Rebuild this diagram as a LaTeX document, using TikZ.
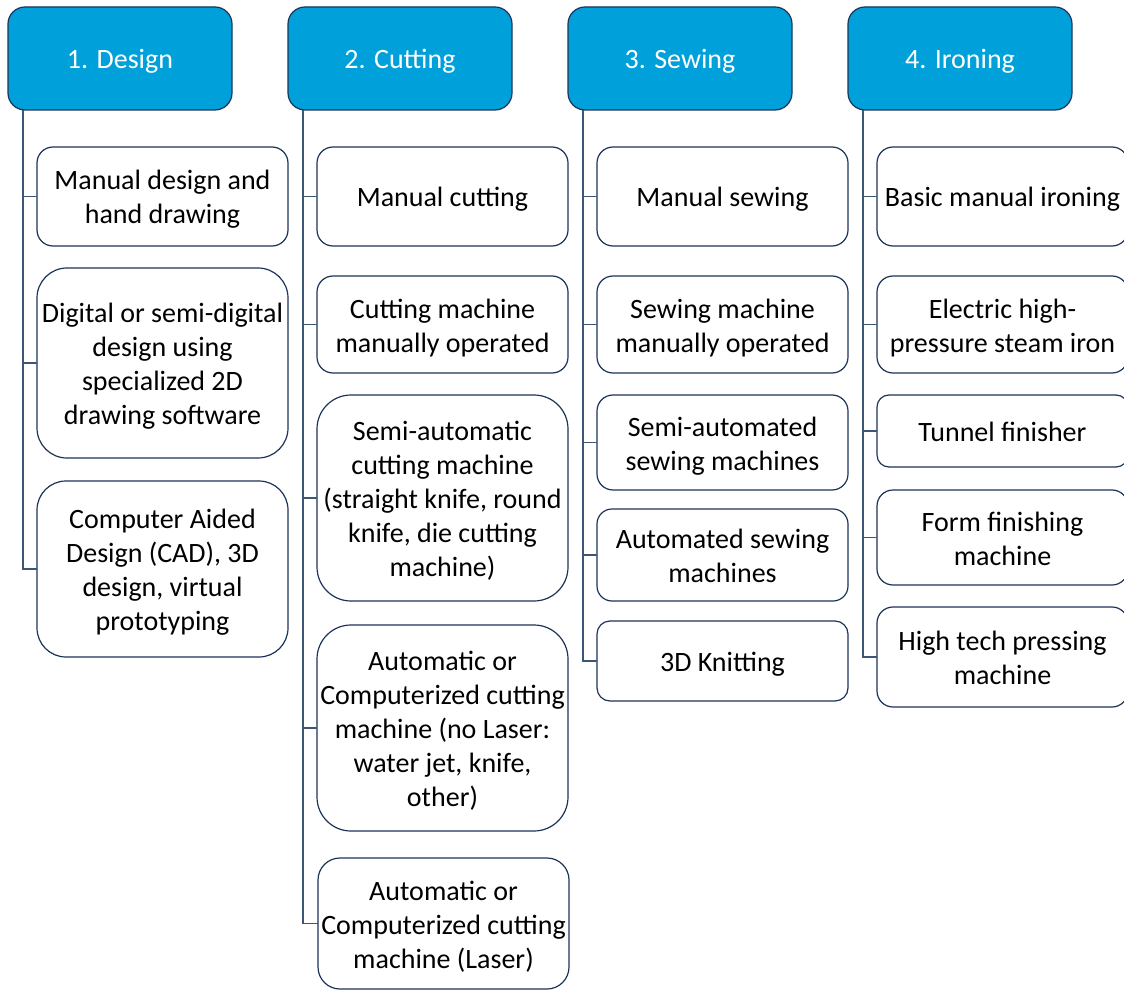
\documentclass[tikz,border=0pt]{standalone}
\usepackage{fontspec}
\setmainfont{Carlito}
\usetikzlibrary{calc}

\definecolor{headblue}{RGB}{0,160,218}
\definecolor{edgenavy}{RGB}{28,52,88}
\definecolor{stemgray}{RGB}{62,86,118}

\tikzset{
  x=1pt, y=-1pt,
  base/.style={draw=edgenavy, line width=1.2pt, inner sep=0pt, outer sep=0pt,
    align=center, font=\fontsize{28}{34}\selectfont},
  headbox/.style={base, fill=headblue, text=white, rounded corners=17pt},
  childbox/.style={base, fill=white, text=black},
  stem/.style={draw=stemgray, line width=1.2pt}
}

% fixed struts so every label block sits at the same height in its box
\newcommand\topstrut{\rule{0pt}{29pt}}
\newcommand\botstrut{\rule[-8pt]{0pt}{8pt}}

% box given by name, left, top, right, bottom, corner radius, style, text
\newcommand\boxat[8]{%
  \node[#7, rounded corners=#6pt, minimum width={#4-#2}, minimum height={#5-#3}]
    (#1) at ({(#2+#4)/2},{(#3+#5)/2}) {\topstrut#8\botstrut};}

\begin{document}
\begin{tikzpicture}
\useasboundingbox[fill=white] (0,0) rectangle (1124,992);

% stage headers
\boxat{h1}{8}{7}{232}{110}{17}{headbox}{1. Design}
\boxat{h2}{288}{7}{512}{110}{17}{headbox}{2. Cutting}
\boxat{h3}{568}{7}{792}{110}{17}{headbox}{3. Sewing}
\boxat{h4}{848}{7}{1072}{110}{17}{headbox}{4. Ironing}

% design
\boxat{c11}{37}{147}{288}{246}{16}{childbox}{Manual design and\\hand drawing}
\boxat{c12}{37}{268}{288}{458}{30}{childbox}{Digital or semi-digital\\design using\\specialized 2D\\drawing software}
\boxat{c13}{37}{481}{288}{657}{29}{childbox}{Computer Aided\\Design (CAD), 3D\\design, virtual\\prototyping}

% cutting
\boxat{c21}{317}{147}{568}{246}{16}{childbox}{Manual cutting}
\boxat{c22}{317}{276}{568}{373}{16}{childbox}{Cutting machine\\manually operated}
\boxat{c23}{317}{395}{568}{601}{34}{childbox}{Semi-automatic\\cutting machine\\(straight knife, round\\knife, die cutting\\machine)}
\boxat{c24}{317}{625}{568}{831}{34}{childbox}{Automatic or\\Computerized cutting\\machine (no Laser:\\water jet, knife,\\other)}
\boxat{c25}{318}{858}{569}{989}{22}{childbox}{Automatic or\\Computerized cutting\\machine (Laser)}

% sewing
\boxat{c31}{597}{147}{848}{246}{16}{childbox}{Manual sewing}
\boxat{c32}{597}{276}{848}{373}{16}{childbox}{Sewing machine\\manually operated}
\boxat{c33}{597}{395}{848}{490}{16}{childbox}{Semi-automated\\sewing machines}
\boxat{c34}{597}{509}{848}{601}{15}{childbox}{Automated sewing\\machines}
\boxat{c35}{597}{621}{848}{701}{13}{childbox}{3D Knitting}

% ironing
\boxat{c41}{877}{147}{1128}{246}{16}{childbox}{Basic manual ironing}
\boxat{c42}{877}{276}{1128}{373}{16}{childbox}{Electric high-\\pressure steam iron}
\boxat{c43}{877}{395}{1128}{467}{12}{childbox}{Tunnel finisher}
\boxat{c44}{877}{490}{1128}{585}{16}{childbox}{Form finishing\\machine}
\boxat{c45}{877}{607}{1128}{707}{16}{childbox}{High tech pressing\\machine}

% stems from each header down to its items
\coordinate (s1) at ($(h1.south west)+(15,0)$);
\coordinate (s2) at ($(h2.south west)+(15,0)$);
\coordinate (s3) at ($(h3.south west)+(15,0)$);
\coordinate (s4) at ($(h4.south west)+(15,0)$);

\foreach \i in {1,2,3} \draw[stem] (s1) |- (c1\i.west);
\foreach \i in {1,...,5} \draw[stem] (s2) |- (c2\i.west);
\foreach \i in {1,...,5} \draw[stem] (s3) |- (c3\i.west);
\foreach \i in {1,...,5} \draw[stem] (s4) |- (c4\i.west);
\end{tikzpicture}
\end{document}
